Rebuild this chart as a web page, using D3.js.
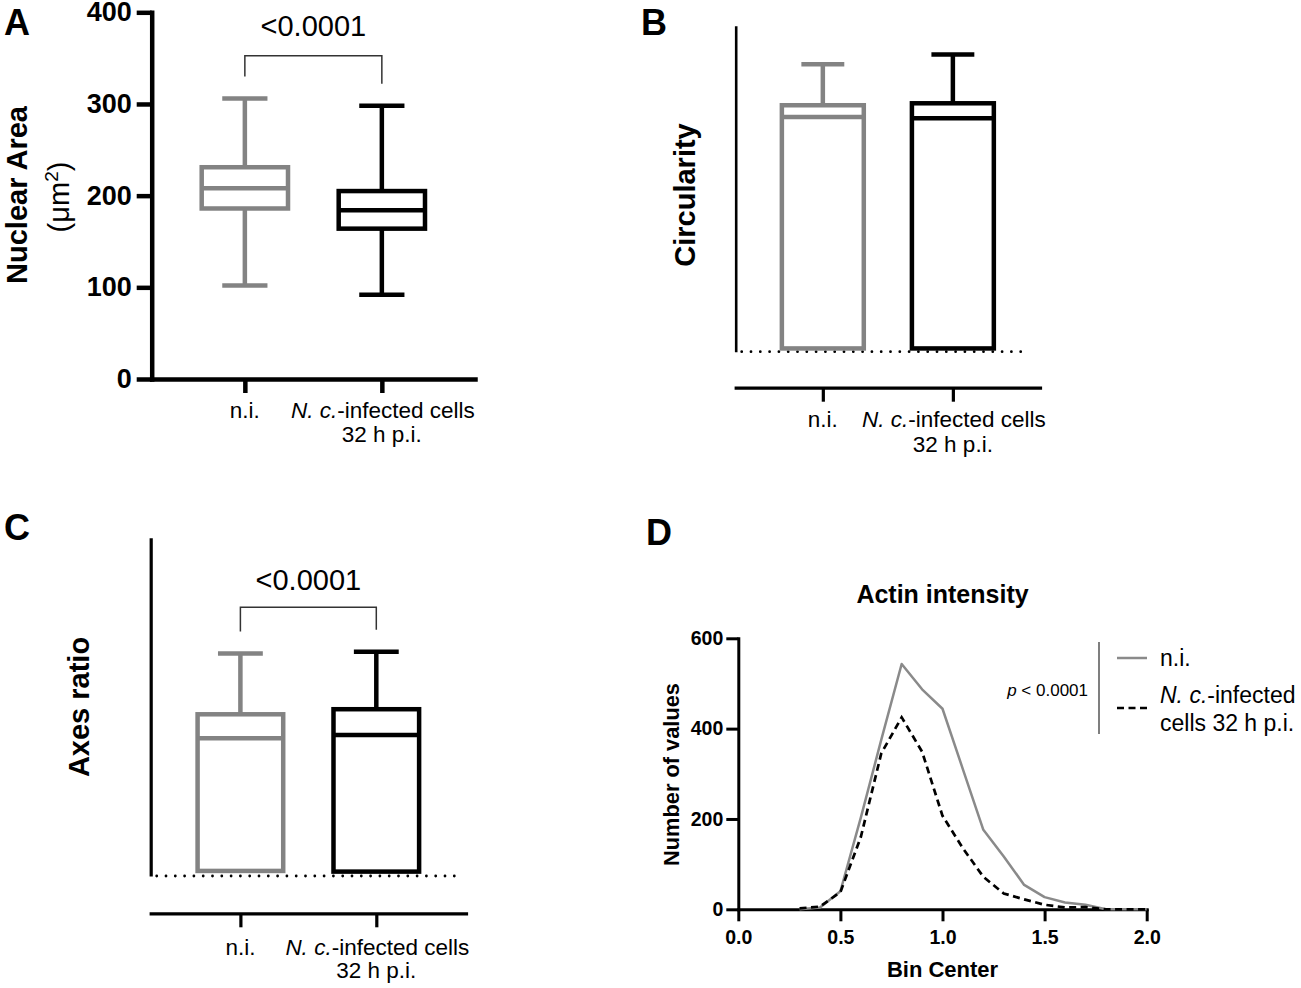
<!DOCTYPE html>
<html>
<head>
<meta charset="utf-8">
<script src="https://cdn.jsdelivr.net/npm/d3@7"></script>
<style>
  body { margin: 0; background: #fff; }
  svg { font-family: "Liberation Sans", Arial, Helvetica, sans-serif; }
</style>
</head>
<body>
<svg id="fig" width="1301" height="988"></svg>
<script>
// ---- data ----
const groups = ["n.i.", "N. c.-infected cells 32 h p.i."];
const groupColors = ["#838383", "#000000"];

// A: nuclear area (um^2), box & whiskers min-max
const areaMin = [102, 92];
const areaQ1 = [186, 164];
const areaMed = [208, 184];
const areaQ3 = [231, 205];
const areaMax = [306, 298];
const areaTicks = [0, 100, 200, 300, 400];

// B: circularity (axis has no labels, relative units)
const circMin = [0.01, 0.01];
const circQ1 = [0.01, 0.01];
const circMed = [0.72, 0.716];
const circQ3 = [0.756, 0.762];
const circMax = [0.882, 0.912];

// C: axes ratio (axis has no labels, relative units)
const ratioMin = [0.015, 0.013];
const ratioQ1 = [0.015, 0.013];
const ratioMed = [0.407, 0.417];
const ratioQ3 = [0.478, 0.493];
const ratioMax = [0.658, 0.663];

// D: actin intensity histogram
const binCenters = [0.3, 0.4, 0.5, 0.6, 0.7, 0.8, 0.9, 1.0, 1.1, 1.2, 1.3, 1.4, 1.5, 1.6, 1.7, 1.8, 1.9, 2.0];
const niCounts = [0, 4, 40, 203, 375, 543, 487, 444, 310, 176, 117, 54, 27, 15, 10, 0, 0, 0];
const infCounts = [2, 6, 38, 160, 345, 425, 349, 207, 135, 72, 35, 22, 10, 4, 5, 0, 0, 0];
const binTicks = [0, 0.5, 1.0, 1.5, 2.0];
const countTicks = [0, 200, 400, 600];

const pText = "<0.0001";

// ---- drawing ----
const svg = d3.select("#fig");
svg.append("rect").attr("width", 1301).attr("height", 988).attr("fill", "#fff");

function styleAxis(sel, sw, fs) {
    sel.attr("font-family", null);
    sel.select(".domain").attr("stroke-width", sw).attr("stroke-linecap", "square");
    sel.selectAll(".tick line").attr("stroke-width", sw);
    sel.selectAll(".tick text")
        .attr("font-size", fs)
        .attr("font-weight", "bold")
        .attr("fill", "#000");
}

function boxes(g, x, y, st, sw) {
    let bw = x.step() * 0.63, cw = x.step() * 0.33;
    groups.forEach((k, i) => {
        let cx = x(k);
        let gg = g.append("g")
            .attr("stroke", groupColors[i])
            .attr("stroke-width", sw)
            .attr("fill", "none");
        gg.append("line").attr("x1", cx).attr("x2", cx)
            .attr("y1", y(st.max[i])).attr("y2", y(st.q3[i]));
        gg.append("line").attr("x1", cx - cw / 2).attr("x2", cx + cw / 2)
            .attr("y1", y(st.max[i])).attr("y2", y(st.max[i]));
        if (st.min[i] < st.q1[i]) {
            gg.append("line").attr("x1", cx).attr("x2", cx)
                .attr("y1", y(st.q1[i])).attr("y2", y(st.min[i]));
            gg.append("line").attr("x1", cx - cw / 2).attr("x2", cx + cw / 2)
                .attr("y1", y(st.min[i])).attr("y2", y(st.min[i]));
        }
        gg.append("rect")
            .attr("x", cx - bw / 2).attr("width", bw)
            .attr("y", y(st.q3[i])).attr("height", y(st.q1[i]) - y(st.q3[i]))
            .attr("fill", "#fff");
        gg.append("line").attr("x1", cx - bw / 2).attr("x2", cx + bw / 2)
            .attr("y1", y(st.med[i])).attr("y2", y(st.med[i]));
    });
}

function catLabels(g, x, y1, y2) {
    g.append("text")
        .attr("x", x(groups[0])).attr("y", y1)
        .attr("text-anchor", "middle").attr("font-size", 22.5)
        .text("n.i.");
    let t = g.append("text")
        .attr("x", x(groups[1]) + 1).attr("y", y1)
        .attr("text-anchor", "middle").attr("font-size", 22.5);
    t.append("tspan").attr("font-style", "italic").text("N. c.");
    t.append("tspan").text("-infected cells");
    g.append("text")
        .attr("x", x(groups[1])).attr("y", y2)
        .attr("text-anchor", "middle").attr("font-size", 22.5)
        .text("32 h p.i.");
}

function bracket(g, x, y, st, lift, textGap) {
    let x0 = x(groups[0]), x1 = x(groups[1]);
    let top = Math.min(y(st.max[0]), y(st.max[1]));
    let barY = top - lift;
    g.append("path")
        .attr("d", `M${x0},${y(st.max[0]) - 22}V${barY}H${x1}V${y(st.max[1]) - 22}`)
        .attr("fill", "none").attr("stroke", "#333").attr("stroke-width", 1.5);
    g.append("text")
        .attr("x", (x0 + x1) / 2).attr("y", barY - textGap)
        .attr("text-anchor", "middle").attr("font-size", 29)
        .text(pText);
}

function dotted(g, y0, xa, xb) {
    g.append("line")
        .attr("x1", xa + 6).attr("x2", xb)
        .attr("y1", y0).attr("y2", y0)
        .attr("stroke", "#000").attr("stroke-width", 2.8)
        .attr("stroke-linecap", "round")
        .attr("stroke-dasharray", "0,9.3");
}

function panelLetter(x, y, s) {
    svg.append("text").attr("x", x).attr("y", y)
        .attr("font-size", 36).attr("font-weight", "bold").text(s);
}

function rotLabel(g, x, y, s, fs, weight) {
    return g.append("text")
        .attr("transform", `translate(${x},${y}) rotate(-90)`)
        .attr("text-anchor", "middle")
        .attr("font-size", fs).attr("font-weight", weight || "bold")
        .text(s);
}

// ---------- A ----------
{
    let g = svg.append("g");
    let y = d3.scaleLinear().domain([0, 400]).range([379, 12.3]);
    let x = d3.scalePoint().domain(groups).range([151.7, 475]).padding(0.68);
    let st = {min: areaMin, q1: areaQ1, med: areaMed, q3: areaQ3, max: areaMax};

    g.append("g").attr("transform", "translate(151.7,0)")
        .call(d3.axisLeft(y).tickValues(areaTicks).tickSize(15).tickSizeOuter(0).tickPadding(5))
        .call(s => styleAxis(s, 4.5, 27));
    g.append("g").attr("transform", "translate(0,379)")
        .call(d3.axisBottom(x).tickSize(14).tickSizeOuter(0).tickFormat(() => ""))
        .call(s => styleAxis(s, 4.5, 0));

    boxes(g, x, y, st, 4.5);
    bracket(g, x, y, st, 42.7, 20);
    catLabels(g, x, 418, 442);

    rotLabel(g, 27, 195, "Nuclear Area", 29);
    let u = g.append("text")
        .attr("transform", "translate(69,197) rotate(-90)")
        .attr("text-anchor", "middle").attr("font-size", 29);
    u.append("tspan").text("(\u03bcm");
    u.append("tspan").attr("font-size", 19).attr("dy", -11).text("2");
    u.append("tspan").attr("dy", 11).text(")");
    panelLetter(4, 35, "A");
}

// ---------- B ----------
{
    let g = svg.append("g");
    let y = d3.scaleLinear().domain([0, 1]).range([351.7, 25.7]);
    let x = d3.scalePoint().domain(groups).range([735.7, 1040]).padding(0.67);
    let st = {min: circMin, q1: circQ1, med: circMed, q3: circQ3, max: circMax};

    g.append("g").attr("transform", "translate(735.7,0)")
        .call(d3.axisLeft(y).tickValues([]).tickSizeOuter(0))
        .call(s => styleAxis(s, 2.6, 0));
    g.select(".domain").attr("stroke-linecap", "butt");
    dotted(g, y(0), 735.7, 1030);
    g.append("g").attr("transform", "translate(0,387.7)")
        .call(d3.axisBottom(x).tickSize(14).tickSizeOuter(0).tickFormat(() => ""))
        .call(s => styleAxis(s, 3.2, 0));

    boxes(g, x, y, st, 4.5);
    catLabels(g, x, 427, 452);
    rotLabel(g, 695, 195, "Circularity", 29);
    panelLetter(641, 35, "B");
}

// ---------- C ----------
{
    let g = svg.append("g");
    let y = d3.scaleLinear().domain([0, 1]).range([876, 537.7]);
    let x = d3.scalePoint().domain(groups).range([150.7, 466]).padding(0.66);
    let st = {min: ratioMin, q1: ratioQ1, med: ratioMed, q3: ratioQ3, max: ratioMax};

    g.append("g").attr("transform", "translate(150.7,0)")
        .call(d3.axisLeft(y).tickValues([]).tickSizeOuter(0))
        .call(s => styleAxis(s, 3.2, 0));
    g.select(".domain").attr("stroke-linecap", "butt");
    dotted(g, y(0), 150.7, 455);
    g.append("g").attr("transform", "translate(0,913.3)")
        .call(d3.axisBottom(x).tickSize(14).tickSizeOuter(0).tickFormat(() => ""))
        .call(s => styleAxis(s, 3.2, 0));

    boxes(g, x, y, st, 4.5);
    bracket(g, x, y, st, 44.4, 17);
    catLabels(g, x, 955, 978);
    rotLabel(g, 89, 707, "Axes ratio", 29);
    panelLetter(4, 540, "C");
}

// ---------- D ----------
{
    let g = svg.append("g");
    let x = d3.scaleLinear().domain([0, 2]).range([738.3, 1146.7]);
    let y = d3.scaleLinear().domain([0, 600]).range([909.3, 638.3]);

    g.append("g").attr("transform", "translate(738.3,0)")
        .call(d3.axisLeft(y).tickValues(countTicks).tickSize(12).tickSizeOuter(0).tickPadding(3))
        .call(s => styleAxis(s, 3, 19.5));
    g.append("g").attr("transform", "translate(0,909.3)")
        .call(d3.axisBottom(x).tickValues(binTicks).tickFormat(d3.format(".1f"))
            .tickSize(12).tickSizeOuter(0).tickPadding(9))
        .call(s => styleAxis(s, 3, 19.5));

    let line = d3.line().x((d, i) => x(binCenters[i])).y(d => y(d));
    g.append("path").datum(niCounts).attr("d", line)
        .attr("fill", "none").attr("stroke", "#8a8a8a").attr("stroke-width", 2.5)
        .attr("stroke-linejoin", "round");
    g.append("path").datum(infCounts).attr("d", line)
        .attr("fill", "none").attr("stroke", "#000").attr("stroke-width", 2.7)
        .attr("stroke-dasharray", "7,4.5");

    g.append("text").attr("x", 942.5).attr("y", 603)
        .attr("text-anchor", "middle").attr("font-size", 25).attr("font-weight", "bold")
        .text("Actin intensity");
    g.append("text").attr("x", 942.5).attr("y", 977)
        .attr("text-anchor", "middle").attr("font-size", 22).attr("font-weight", "bold")
        .text("Bin Center");
    rotLabel(g, 679, 774.5, "Number of values", 21.8);

    // legend
    g.append("line").attr("x1", 1099).attr("x2", 1099).attr("y1", 642).attr("y2", 734)
        .attr("stroke", "#555").attr("stroke-width", 1.5);
    let p = g.append("text").attr("x", 1088).attr("y", 696)
        .attr("text-anchor", "end").attr("font-size", 17);
    p.append("tspan").attr("font-style", "italic").text("p");
    p.append("tspan").text(" < 0.0001");
    g.append("line").attr("x1", 1117).attr("x2", 1147).attr("y1", 658).attr("y2", 658)
        .attr("stroke", "#8a8a8a").attr("stroke-width", 2.5);
    g.append("line").attr("x1", 1117).attr("x2", 1147).attr("y1", 708).attr("y2", 708)
        .attr("stroke", "#000").attr("stroke-width", 2.7).attr("stroke-dasharray", "7,4.5");
    g.append("text").attr("x", 1160).attr("y", 666).attr("font-size", 23).text("n.i.");
    let l2 = g.append("text").attr("x", 1160).attr("y", 703).attr("font-size", 23);
    l2.append("tspan").attr("font-style", "italic").text("N. c.");
    l2.append("tspan").text("-infected");
    g.append("text").attr("x", 1160).attr("y", 731).attr("font-size", 23).text("cells 32 h p.i.");

    panelLetter(646, 545, "D");
}
</script>
</body>
</html>
